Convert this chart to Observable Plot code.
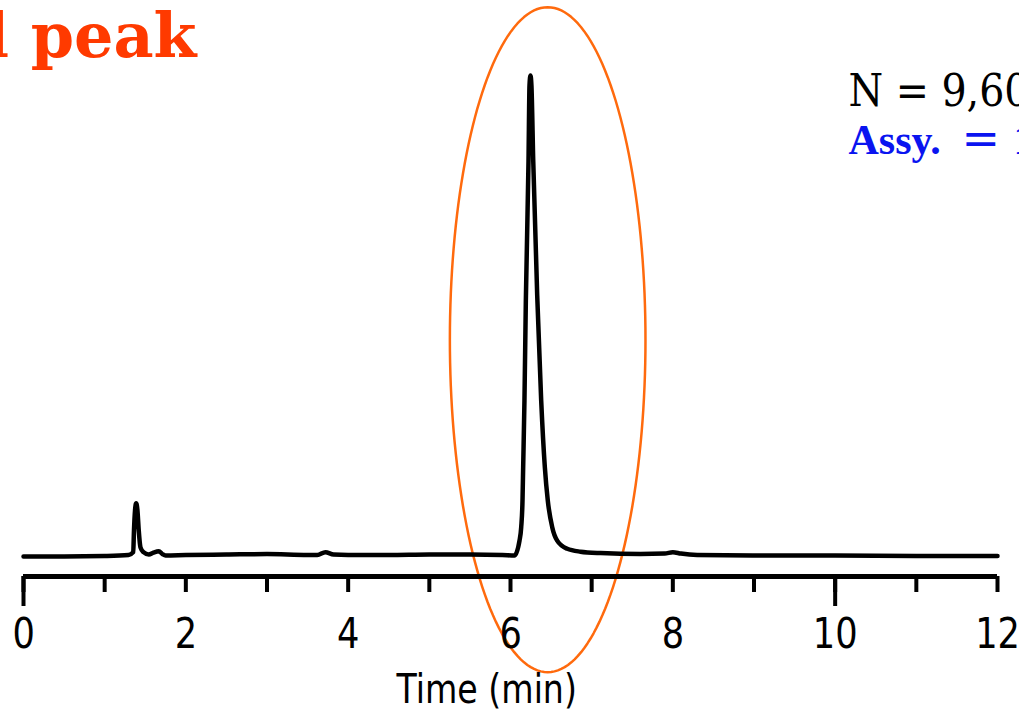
<!DOCTYPE html>
<html>
<head>
<meta charset="utf-8">
<script src="https://cdn.jsdelivr.net/npm/d3@7"></script>
<script src="https://cdn.jsdelivr.net/npm/@observablehq/plot@0.6"></script>
<style>
  html, body { margin: 0; padding: 0; background: white; overflow: hidden; }
  #chart { width: 1019px; height: 713px; overflow: hidden; }
  .cond text { font-stretch: condensed; }
</style>
</head>
<body>
<div id="chart"></div>
<script>
// Retention time (min) and detector signal (relative units)
const time = [0, 0.5, 1.0, 1.294, 1.352, 1.361, 1.374, 1.388, 1.404, 1.420, 1.441, 1.478, 1.544, 1.60, 1.667, 1.712, 1.75,
  2.0, 2.5, 3.0, 3.5, 3.62, 3.72, 3.82, 4.0, 4.5, 5.0, 5.5, 5.9, 6.049,
  6.111, 6.132, 6.148, 6.156, 6.172, 6.189, 6.222, 6.234, 6.246, 6.258, 6.280, 6.329, 6.378, 6.423, 6.459, 6.514, 6.575, 6.699, 6.862,
  7.11, 7.6, 7.9, 8.0, 8.1, 8.3, 9.0, 10.0, 11.0, 12.0];
const signal = [-0.2, -0.2, -0.1, 0.1, 0.7, 5.2, 9.4, 10.9, 9.4, 5.2, 1.7, 0.7, 0.2, 0.6, 0.9, 0.3, 0,
  0.1, 0.2, 0.3, 0.1, 0.1, 0.7, 0.2, 0.1, 0.1, 0.2, 0.2, 0.1, 0,
  3.1, 5.9, 11.5, 18.4, 32.3, 53.1, 82.3, 97.9, 100, 97.9, 82.3, 54.2, 32.3, 18.4, 11.5, 5.9, 3.1, 1.4, 0.8,
  0.5, 0.3, 0.4, 0.7, 0.4, 0.1, 0, 0, -0.1, -0.1];

// Axis ticks
const allTicks = [0, 1, 2, 3, 4, 5, 6, 7, 8, 9, 10, 11, 12];
const labelTicks = [0, 2, 4, 6, 8, 10, 12];
const longTicks = [0, 10];
const xLabel = "Time (min)";

// Annotation texts
const titleText = "l peak";
const plateText = "N = 9,600";
const assyLabel = "Assy.";
const assyEq = "=";
const assyValue = "1";

// Highlight ellipse around the main peak (data units)
const ellipseCenter = [6.458, 44.96];
const ellipseRadii = [1.205, 69.27];

const data = time.map((t, i) => ({t, v: signal[i]}));
const ellipse = d3.range(0, 181).map(i => {
  const a = (i / 180) * 2 * Math.PI;
  return {t: ellipseCenter[0] + ellipseRadii[0] * Math.cos(a), v: ellipseCenter[1] + ellipseRadii[1] * Math.sin(a)};
});

const narrow = "'Liberation Sans Narrow', 'Arial Narrow', 'DejaVu Sans', sans-serif";

const chart = Plot.plot({
  width: 1019,
  height: 713,
  marginLeft: 23,
  marginRight: 22,
  marginTop: 0,
  marginBottom: 137,
  style: {background: "white", fontFamily: narrow, color: "black"},
  x: {domain: [0, 12], axis: null},
  y: {domain: [-4.375, 115.625], axis: null},
  marks: [
    Plot.line(ellipse, {x: "t", y: "v", stroke: "#ff6a0d", strokeWidth: 2.5, curve: "linear-closed"}),
    Plot.line(data, {x: "t", y: "v", stroke: "black", strokeWidth: 4.5, strokeLinejoin: "round", strokeLinecap: "round", curve: "monotone-x"}),
    Plot.ruleY([-4.375], {x1: 0, x2: 12, stroke: "black", strokeWidth: 5}),
    Plot.axisX({ticks: allTicks, tickSize: 16, tickFormat: () => "", label: null, strokeWidth: 4}),
    Plot.axisX({ticks: longTicks, tickSize: 30, tickFormat: () => "", label: null, strokeWidth: 4}),
    Plot.axisX({ticks: labelTicks, tickSize: 0, tickPadding: 41, label: null, fontSize: 43, fontFamily: narrow, fill: "black"}),
    Plot.text([xLabel], {frameAnchor: "bottom", dx: -20, dy: 126, lineAnchor: "bottom", fontSize: 41, fontFamily: narrow, fill: "black"}),
    Plot.text([titleText], {frameAnchor: "top-left", dx: -38, dy: 56, lineAnchor: "bottom", textAnchor: "start", fontSize: 62, fontWeight: "bold", fontFamily: "'DejaVu Serif', serif", fill: "#ff3a00"}),
    Plot.text([plateText], {frameAnchor: "top-left", dx: 825, dy: 105, lineAnchor: "bottom", textAnchor: "start", fontSize: 44, fontFamily: "'DejaVu Serif', serif", fill: "black", className: "cond"}),
    Plot.text([assyLabel], {frameAnchor: "top-left", dx: 825, dy: 153, lineAnchor: "bottom", textAnchor: "start", fontSize: 42, fontWeight: "bold", fontFamily: "'Liberation Serif', serif", fill: "#0a14f0"}),
    Plot.text([assyEq], {frameAnchor: "top-left", dx: 938, dy: 153, lineAnchor: "bottom", textAnchor: "start", fontSize: 46, fontFamily: "'DejaVu Serif', serif", fill: "#0a14f0"}),
    Plot.text([assyValue], {frameAnchor: "top-left", dx: 990, dy: 153, lineAnchor: "bottom", textAnchor: "start", fontSize: 42, fontWeight: "bold", fontFamily: "'Liberation Serif', serif", fill: "#0a14f0"})
  ]
});
document.getElementById("chart").appendChild(chart);

// Narrow the sans-serif axis texts (no condensed sans font is installed)
function narrowTexts(selector, factor) {
  const svgRect = chart.getBoundingClientRect();
  chart.querySelectorAll(selector).forEach(t => {
    const r = t.getBoundingClientRect();
    const cx = r.left + r.width / 2 - svgRect.left;
    const g = document.createElementNS("http://www.w3.org/2000/svg", "g");
    g.setAttribute("transform", `translate(${cx},0) scale(${factor},1) translate(${-cx},0)`);
    t.parentNode.insertBefore(g, t);
    g.appendChild(t);
  });
}
narrowTexts('g[font-size="43"] text', 0.82);
narrowTexts('g[font-size="41"] text', 0.81);
</script>
</body>
</html>
